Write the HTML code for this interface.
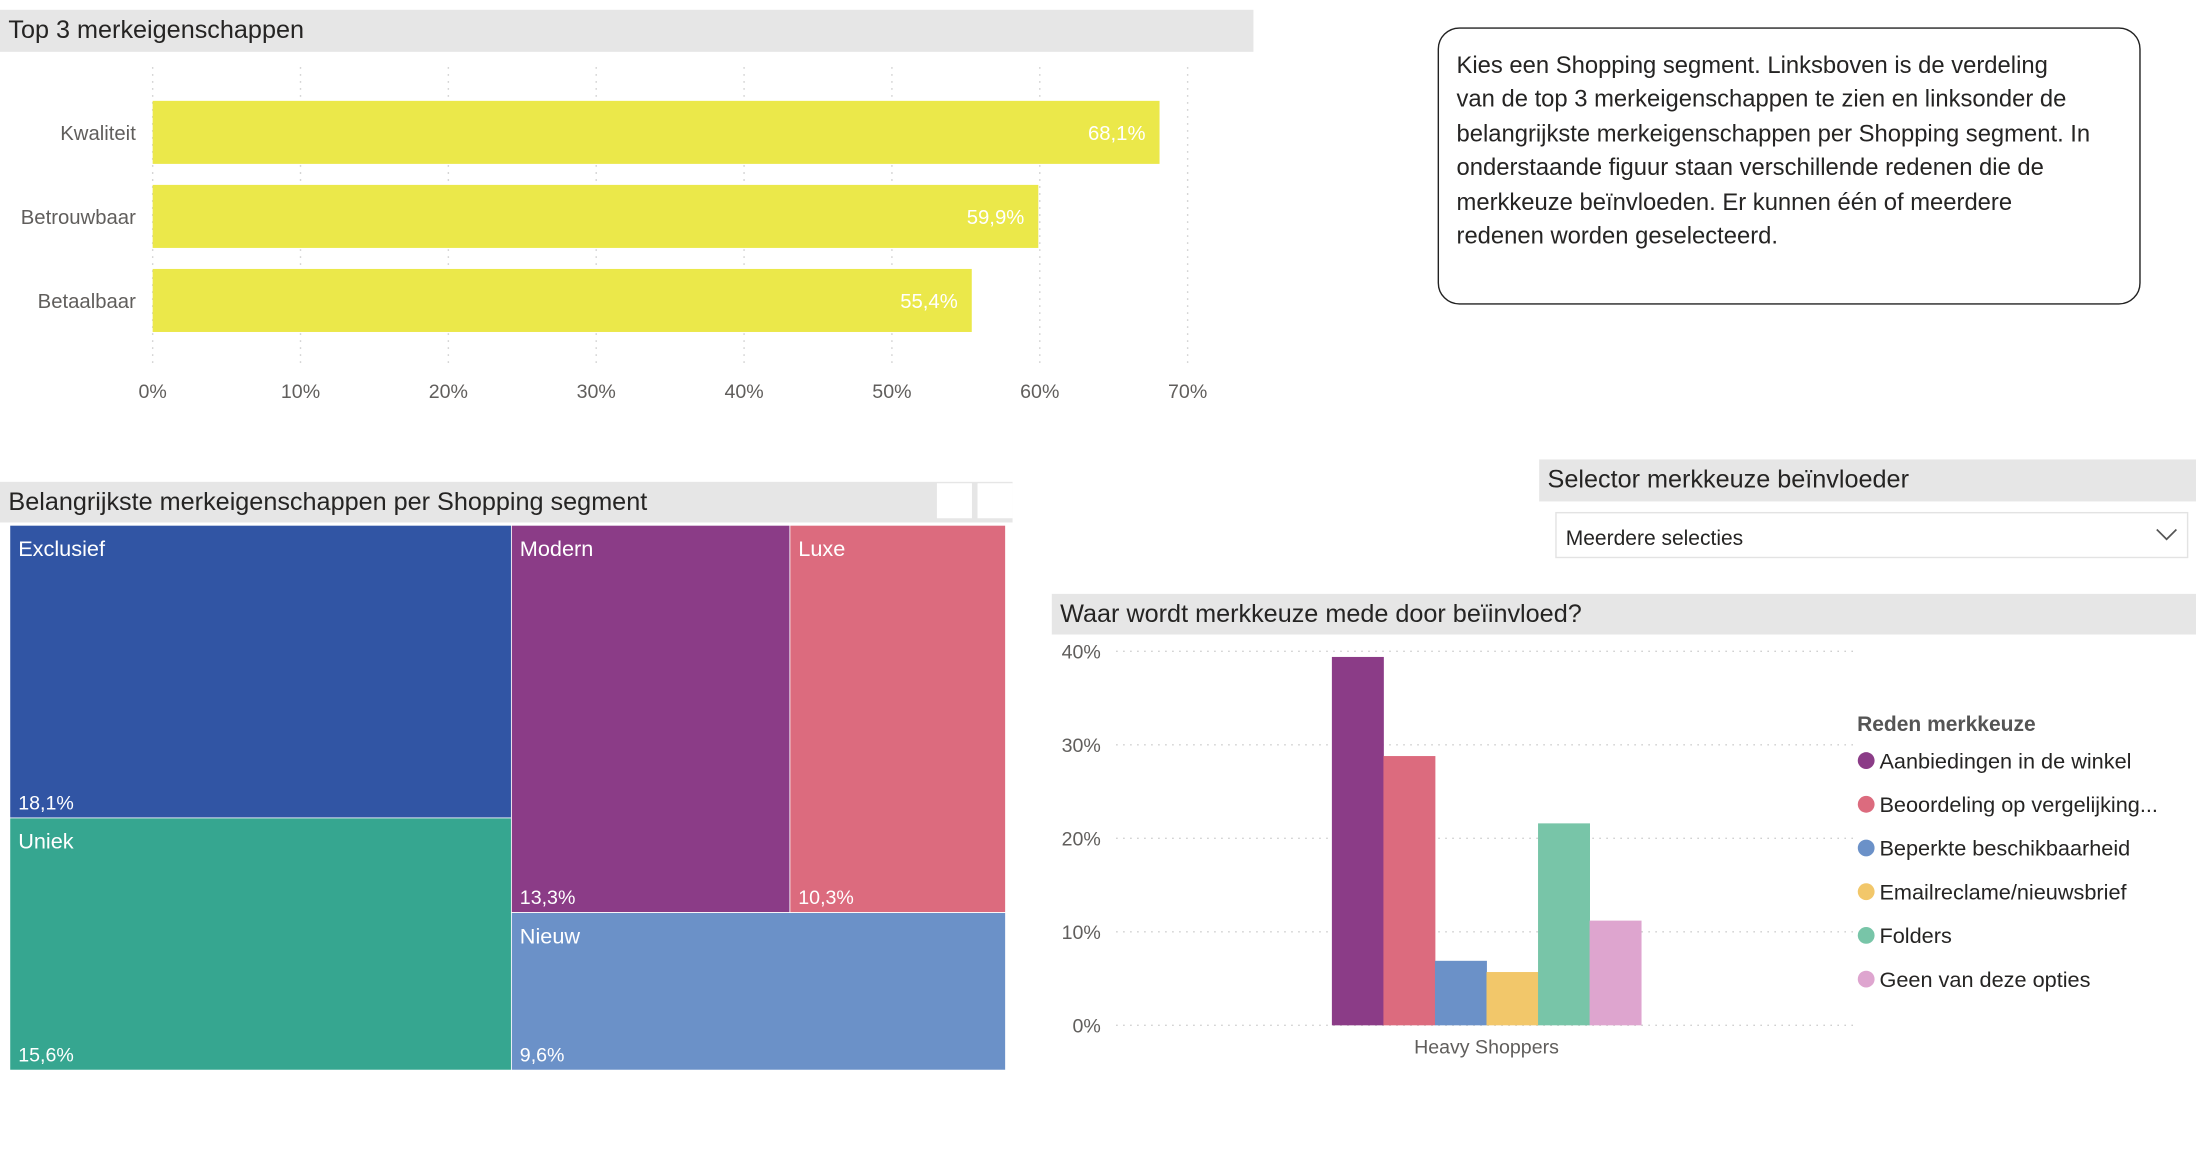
<!DOCTYPE html>
<html><head><meta charset="utf-8"><style>
html,body{margin:0;padding:0;background:#fff;}
svg{display:block;font-family:"Liberation Sans",sans-serif;}
</style></head><body>
<svg id="root" width="2196" height="1171" viewBox="0 0 1568 836" preserveAspectRatio="none">
<rect x="0" y="7" width="895" height="30" fill="#e6e6e6"/>
<text x="6" y="27" font-size="18" fill="#252423">Top 3 merkeigenschappen</text>
<g id="top3"></g>

<rect x="1027" y="20" width="501" height="197" rx="15" fill="#fff" stroke="#222" stroke-width="1"/>
<g font-size="17" fill="#252423">
<text x="1040" y="52">Kies een Shopping segment.  Linksboven is de verdeling</text>
<text x="1040" y="76">van de top 3 merkeigenschappen te zien en linksonder de</text>
<text x="1040" y="101">belangrijkste merkeigenschappen per Shopping segment. In</text>
<text x="1040" y="125">onderstaande figuur staan verschillende redenen die de</text>
<text x="1040" y="150">merkkeuze beïnvloeden. Er kunnen één of meerdere</text>
<text x="1040" y="174">redenen worden geselecteerd.</text>
</g>

<rect x="0" y="344" width="723" height="29" fill="#e6e6e6"/>
<text x="6" y="364" font-size="18" fill="#252423">Belangrijkste merkeigenschappen per Shopping segment</text>
<rect x="669" y="345" width="25" height="25" fill="#fff"/>
<rect x="698" y="345" width="25" height="25" fill="#fff"/>
<g id="treemap"></g>

<rect x="1099" y="328" width="469" height="30" fill="#e6e6e6"/>
<text x="1105" y="348" font-size="18" fill="#252423">Selector merkkeuze beïnvloeder</text>
<rect x="1111" y="366" width="451" height="32" fill="#fff" stroke="#e3e3e3"/>
<text x="1118" y="389" font-size="15" fill="#252423">Meerdere selecties</text>
<path d="M1540 378 L1547 385 L1554 378" fill="none" stroke="#555" stroke-width="1.2"/>

<rect x="751" y="424" width="817" height="29" fill="#e6e6e6"/>
<text x="757" y="444" font-size="18" fill="#252423">Waar wordt merkkeuze mede door beïinvloed?</text>
<g id="cols"></g>
<g id="legend"></g>
</svg>
<script>
const NS="http://www.w3.org/2000/svg";
function mk(parent,tag,attrs,txt){const e=document.createElementNS(NS,tag);for(const k in attrs)e.setAttribute(k,attrs[k]);if(txt!==undefined)e.textContent=txt;parent.appendChild(e);return e;}

const top3Categories=["Kwaliteit","Betrouwbaar","Betaalbaar"];
const top3Values=[68.1,59.9,55.4];
const top3Labels=["68,1%","59,9%","55,4%"];
const top3Ticks=[0,10,20,30,40,50,60,70];

const tmNames=["Exclusief","Uniek","Modern","Luxe","Nieuw"];
const tmValues=[18.1,15.6,13.3,10.3,9.6];
const tmLabels=["18,1%","15,6%","13,3%","10,3%","9,6%"];
const tmColors=["#3155a4","#36a690","#8b3c87","#dc6b7e","#6b91c8"];

const colSeries=["Aanbiedingen in de winkel","Beoordeling op vergelijking...","Beperkte beschikbaarheid","Emailreclame/nieuwsbrief","Folders","Geen van deze opties"];
const colValues=[39.4,28.8,6.9,5.7,21.6,11.2];
const colColors=["#8b3c87","#dc6b7e","#6b91c8","#f2c76a","#78c5a8","#dea5cf"];
const colTicks=[0,10,20,30,40];
const colCategory="Heavy Shoppers";

(function(){
  const g=document.getElementById("top3");
  const x=v=>109+v*(848-109)/70;
  top3Ticks.forEach(t=>{
    const l=mk(g,"line",{x1:x(t),x2:x(t),y1:48,y2:262,stroke:"#c8c8c8","stroke-dasharray":"1,4"});
    
    
    const tx=mk(g,"text",{x:x(t),y:284,"font-size":"14","text-anchor":"middle",fill:"#605e5c"},t+"%");
    
    
  });
  top3Categories.forEach((c,i)=>{
    const y=72+i*60;
    const r=mk(g,"rect",{x:x(0),y:y,width:x(top3Values[i])-x(0),height:45,fill:"#ebe84a"});
    
    
    const l=mk(g,"text",{x:97,y:y+28,"font-size":"14.5","text-anchor":"end",fill:"#605e5c"},c);
    
    
    const v=mk(g,"text",{x:x(top3Values[i])-10,y:y+28,"font-size":"14.5","text-anchor":"end",fill:"#fff"},top3Labels[i]);
    
    
  });
})();

(function(){
  const g=document.getElementById("treemap");
  const X0=7,X1=718,Y0=375,Y1=764,W=X1-X0,H=Y1-Y0;
  const total=tmValues.reduce((a,b)=>a+b,0);
  const c1=tmValues[0]+tmValues[1];
  const xs=X0+W*c1/total;
  const ys=Y0+H*tmValues[0]/c1;
  const rest=tmValues[2]+tmValues[3]+tmValues[4];
  const top=tmValues[2]+tmValues[3];
  const yr=Y0+H*top/rest;
  const xm=xs+(X1-xs)*tmValues[2]/top;
  const rects=[[X0,Y0,xs,ys],[X0,ys,xs,Y1],[xs,Y0,xm,yr],[xm,Y0,X1,yr],[xs,yr,X1,Y1]];
  rects.forEach((r,i)=>{
    const e=mk(g,"rect",{x:r[0],y:r[1],width:r[2]-r[0],height:r[3]-r[1],fill:tmColors[i],stroke:"#fff","stroke-width":"0.6"});
    
    
    const n=mk(g,"text",{x:r[0]+6,y:r[1]+22,"font-size":"15.5",fill:"#fff"},tmNames[i]);
    
    
    const v=mk(g,"text",{x:r[0]+6,y:r[3]-6,"font-size":"14",fill:"#fff"},tmLabels[i]);
    
    
  });
})();

(function(){
  const g=document.getElementById("cols");
  const y=v=>732-v*(732-465)/40;
  colTicks.forEach(t=>{
    const l=mk(g,"line",{x1:797,x2:1323,y1:y(t),y2:y(t),stroke:"#c8c8c8","stroke-dasharray":"1,4"});
    
    
    const tx=mk(g,"text",{x:786,y:y(t)+5,"font-size":"14","text-anchor":"end",fill:"#605e5c"},t+"%");
    
    
  });
  const bw=36.8,x0=951;
  colValues.forEach((v,i)=>{
    const r=mk(g,"rect",{x:x0+i*bw,y:y(v),width:bw+0.3,height:y(0)-y(v),fill:colColors[i]});
    
    
  });
  const c=mk(g,"text",{x:x0+bw*colValues.length/2,y:752,"font-size":"14","text-anchor":"middle",fill:"#605e5c"},colCategory);
  
  

  const lg=document.getElementById("legend");
  const t=mk(lg,"text",{x:1326,y:522,"font-size":"15","font-weight":"bold",fill:"#555"},"Reden merkkeuze");
  
  
  colSeries.forEach((s,i)=>{
    const yy=543+i*31.2;
    const ci=mk(lg,"circle",{cx:1332.5,cy:yy,r:6,fill:colColors[i]});
    
    
    const tx=mk(lg,"text",{x:1342,y:yy+5.5,"font-size":"15.5",fill:"#252423"},s);
    
    
  });
})();
</script>
</body></html>
